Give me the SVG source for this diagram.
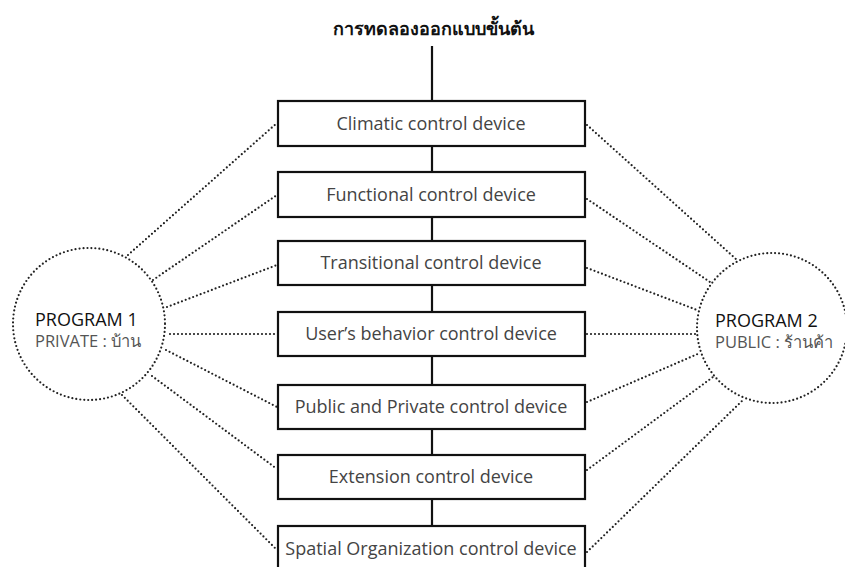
<svg xmlns="http://www.w3.org/2000/svg" width="845" height="567" viewBox="0 0 845 567">
<style>
.box{fill:#fff;stroke:#111;stroke-width:2.2}
.lbl{font-family:"Open Sans","Noto Sans",sans-serif;font-size:18px;fill:#444;text-anchor:middle}
.solid{stroke:#111;stroke-width:2.2;fill:none}
.dot{stroke:#222;stroke-width:2.2;stroke-linecap:round;stroke-dasharray:0 4;fill:none}
.title{font-family:"Noto Sans","DejaVu Sans",sans-serif;font-size:18px;font-weight:bold;fill:#111;text-anchor:middle}
.pg{font-family:"Open Sans","Noto Sans",sans-serif;font-size:18px;fill:#111}
.sub{font-family:"Open Sans","Noto Sans",sans-serif;font-size:16.5px;fill:#555}
</style>
<rect width="845" height="567" fill="#fff"/>
<g id="connectors">
<line class="solid" x1="432" y1="46" x2="432" y2="101"/>
<line class="solid" x1="432" y1="146" x2="432" y2="172"/>
<line class="solid" x1="432" y1="217" x2="432" y2="241"/>
<line class="solid" x1="432" y1="285" x2="432" y2="312"/>
<line class="solid" x1="432" y1="356" x2="432" y2="385"/>
<line class="solid" x1="432" y1="429" x2="432" y2="455"/>
<line class="solid" x1="432" y1="499" x2="432" y2="526"/>
<line class="dot" x1="128" y1="255" x2="277" y2="123"/>
<line class="dot" x1="153" y1="280" x2="277" y2="195"/>
<line class="dot" x1="167" y1="307" x2="277" y2="265"/>
<line class="dot" x1="170" y1="334" x2="277" y2="334"/>
<line class="dot" x1="166" y1="350" x2="277" y2="407"/>
<line class="dot" x1="152" y1="376" x2="277" y2="469"/>
<line class="dot" x1="122" y1="395" x2="277" y2="550"/>
<line class="dot" x1="587" y1="125" x2="737" y2="260"/>
<line class="dot" x1="587" y1="199" x2="710" y2="282"/>
<line class="dot" x1="587" y1="268" x2="697" y2="310"/>
<line class="dot" x1="587" y1="334" x2="697" y2="334"/>
<line class="dot" x1="587" y1="402" x2="700" y2="353"/>
<line class="dot" x1="587" y1="470" x2="713" y2="377"/>
<line class="dot" x1="587" y1="552" x2="743" y2="400"/>
</g>
<g id="title"><text class="title" x="433" y="35">การทดลองออกแบบขั้นต้น</text></g>
<g id="n1"><rect class="box" x="278" y="101" width="307" height="45"/><text class="lbl" x="431" y="130">Climatic control device</text></g>
<g id="n2"><rect class="box" x="278" y="172" width="307" height="45"/><text class="lbl" x="431" y="201">Functional control device</text></g>
<g id="n3"><rect class="box" x="278" y="241" width="307" height="44"/><text class="lbl" x="431" y="269">Transitional control device</text></g>
<g id="n4"><rect class="box" x="278" y="312" width="307" height="44"/><text class="lbl" x="431" y="340">User’s behavior control device</text></g>
<g id="n5"><rect class="box" x="278" y="385" width="307" height="44"/><text class="lbl" x="431" y="413">Public and Private control device</text></g>
<g id="n6"><rect class="box" x="278" y="455" width="307" height="44"/><text class="lbl" x="431" y="483">Extension control device</text></g>
<g id="n7"><rect class="box" x="278" y="526" width="307" height="46"/><text class="lbl" x="431" y="555">Spatial Organization control device</text></g>
<g id="p1"><circle class="dot" cx="89" cy="324" r="76"/><text class="pg" x="35" y="326">PROGRAM 1</text><text class="sub" x="35" y="347">PRIVATE : บ้าน</text></g>
<g id="p2"><circle class="dot" cx="772" cy="328" r="75"/><text class="pg" x="715" y="327">PROGRAM 2</text><text class="sub" x="715" y="348">PUBLIC : ร้านค้า</text></g>
</svg>
